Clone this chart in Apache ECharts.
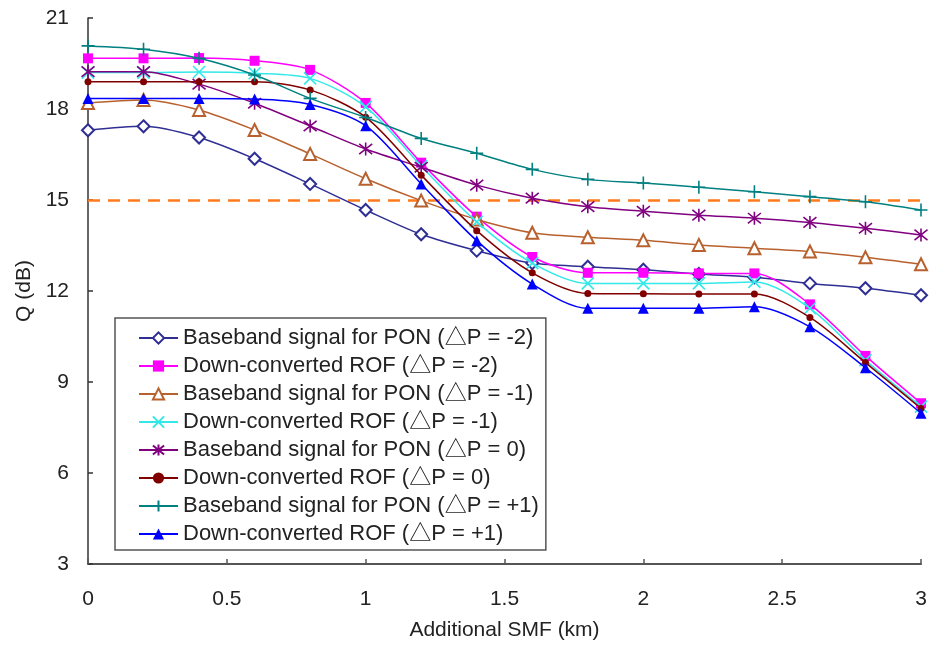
<!DOCTYPE html>
<html>
<head>
<meta charset="utf-8">
<script src="https://cdn.jsdelivr.net/npm/echarts@6/dist/echarts.min.js"></script>
<style>
html,body{margin:0;padding:0;background:#fff;}
#chart{width:936px;height:652px;}
</style>
</head>
<body>
<div id="chart"></div>
<script>
// ---- data ----
const xKm = [0, 0.2, 0.4, 0.6, 0.8, 1.0, 1.2, 1.4, 1.6, 1.8, 2.0, 2.2, 2.4, 2.6, 2.8, 3.0];

const seriesNames = [
  'Baseband signal for PON (△P = -2)',
  'Down-converted ROF (△P = -2)',
  'Baseband signal for PON (△P = -1)',
  'Down-converted ROF (△P = -1)',
  'Baseband signal for PON (△P = 0)',
  'Down-converted ROF (△P = 0)',
  'Baseband signal for PON (△P = +1)',
  'Down-converted ROF (△P = +1)'
];

const basebandM2 = [17.30, 17.43, 17.06, 16.36, 15.53, 14.67, 13.87, 13.33, 12.92, 12.80, 12.70, 12.56, 12.45, 12.25, 12.09, 11.86];
const downConvM2 = [19.67, 19.67, 19.68, 19.59, 19.29, 18.20, 16.23, 14.45, 13.12, 12.60, 12.60, 12.58, 12.58, 11.56, 9.86, 8.30];
const basebandM1 = [18.20, 18.30, 17.97, 17.31, 16.52, 15.70, 14.98, 14.36, 13.92, 13.77, 13.67, 13.52, 13.41, 13.30, 13.11, 12.88];
const downConvM1 = [19.20, 19.20, 19.22, 19.18, 19.01, 18.07, 16.12, 14.28, 12.92, 12.25, 12.25, 12.25, 12.30, 11.43, 9.72, 8.19];
const baseband0  = [19.23, 19.23, 18.82, 18.19, 17.44, 16.68, 16.08, 15.49, 15.06, 14.78, 14.63, 14.50, 14.40, 14.26, 14.07, 13.85];
const downConv0  = [18.90, 18.90, 18.90, 18.90, 18.63, 17.73, 15.82, 13.99, 12.60, 11.92, 11.91, 11.90, 11.90, 11.13, 9.64, 8.13];
const basebandP1 = [20.08, 19.97, 19.67, 19.12, 18.35, 17.72, 17.03, 16.54, 16.01, 15.68, 15.56, 15.42, 15.27, 15.11, 14.94, 14.67];
const downConvP1 = [18.35, 18.35, 18.35, 18.33, 18.15, 17.45, 15.53, 13.66, 12.23, 11.43, 11.43, 11.43, 11.48, 10.82, 9.47, 7.97];

const thresholdQ = 15;

const yTicks = { min: 3, max: 21, interval: 3 };
const xTicks = { min: 0, max: 3, interval: 0.5 };

// ---- styles ----
const FONT = '"Liberation Sans", Arial, "Noto Sans CJK SC", sans-serif';
const allData = [basebandM2, downConvM2, basebandM1, downConvM1, baseband0, downConv0, basebandP1, downConvP1];
const colors = ['#2E2E93', '#FF00FF', '#B8612E', '#33E8E8', '#800080', '#800000', '#008080', '#0000FF'];
const symbols = [
  'emptyDiamond', 'rect', 'emptyTriangle',
  'path://M0,0L10,10M10,0L0,10',
  'path://M1,1L9,9M9,1L1,9M5,0L5,10',
  'circle',
  'path://M5,0L5,10M0,5L10,5',
  'triangle'
];
const sizes = [12, 10, 12, 12, 13, 7, 13, 11];
const strokeW = [1.5, 0, 1.5, 1.6, 1.6, 0, 1.6, 0];

const series = allData.map((vals, i) => {
  const s = {
    name: seriesNames[i],
    type: 'line',
    data: xKm.map((x, k) => [x, vals[k]]),
    smooth: 0.3,
    symbol: symbols[i],
    symbolSize: sizes[i],
    showAllSymbol: true,
    lineStyle: { color: colors[i], width: 1.5 },
    itemStyle: { color: colors[i], borderColor: colors[i], borderWidth: strokeW[i] },
    emphasis: { disabled: true },
    z: 3 + i
  };
  if (i === 0) {
    s.markLine = {
      silent: true,
      symbol: 'none',
      label: { show: false },
      lineStyle: { color: '#FF7A1A', width: 2.5, type: [12, 8] },
      data: [{ yAxis: thresholdQ }],
      z: 1
    };
  }
  return s;
});

const chart = echarts.init(document.getElementById('chart'));
chart.setOption({
  animation: false,
  backgroundColor: '#fff',
  textStyle: { fontFamily: FONT },
  grid: { left: 88, right: 15, top: 18, bottom: 88, containLabel: false },
  xAxis: {
    type: 'value',
    min: xTicks.min, max: xTicks.max, interval: xTicks.interval,
    name: 'Additional SMF (km)',
    nameLocation: 'middle',
    nameGap: 56,
    nameTextStyle: { fontSize: 21, color: '#222', fontFamily: FONT },
    axisLine: { show: true, onZero: false, lineStyle: { color: '#555', width: 2 } },
    axisTick: { show: true, inside: true, length: 5, lineStyle: { color: '#555', width: 1.5 } },
    axisLabel: { fontSize: 21, color: '#222', margin: 25, fontFamily: FONT },
    splitLine: { show: false }
  },
  yAxis: {
    type: 'value',
    min: yTicks.min, max: yTicks.max, interval: yTicks.interval,
    name: 'Q (dB)',
    nameLocation: 'middle',
    nameGap: 53,
    nameTextStyle: { fontSize: 21, color: '#222', fontFamily: FONT },
    axisLine: { show: true, onZero: false, lineStyle: { color: '#333', width: 1.5 } },
    axisTick: { show: true, inside: true, length: 5, lineStyle: { color: '#333', width: 1.5 } },
    axisLabel: { fontSize: 21, color: '#222', margin: 19, fontFamily: FONT },
    splitLine: { show: false }
  },
  legend: {
    orient: 'vertical',
    left: 115,
    top: 318,
    padding: [9, 7, 5, 23],
    itemWidth: 39,
    itemHeight: 14,
    itemGap: 6,
    backgroundColor: '#fff',
    borderColor: '#555',
    borderWidth: 1.5,
    borderRadius: 0,
    textStyle: { fontSize: 22, color: '#222', fontFamily: FONT, lineHeight: 22 },
    data: seriesNames
  },
  series: series
});
</script>
</body>
</html>
